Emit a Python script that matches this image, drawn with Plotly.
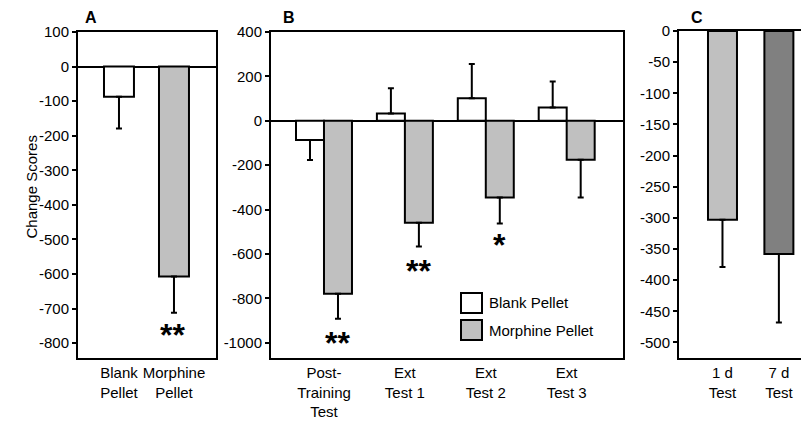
import plotly.graph_objects as go

# The page body adds an 8 px margin, so the figure is drawn 8 px in from the corner.
OX, OY = 8, 8
W, H = 809 - OX, 422 - OY

# ---------------- data ----------------
cats_a = ["Blank<br>Pellet", "Morphine<br>Pellet"]
vals_a = [-87, -607]
err_a = [92, 105]
ticks_a = [100, 0, -100, -200, -300, -400, -500, -600, -700, -800]

cats_b = ["Post-<br>Training<br>Test", "Ext<br>Test 1", "Ext<br>Test 2", "Ext<br>Test 3"]
blank_b = [-87, 33, 101, 60]
blank_err_b = [90, 114, 155, 117]
morph_b = [-779, -459, -346, -176]
morph_err_b = [113, 108, 117, 170]
ticks_b = [400, 200, 0, -200, -400, -600, -800, -1000]

cats_c = ["1 d<br>Test", "7 d<br>Test"]
vals_c = [-303, -358]
err_c = [76, 110]
ticks_c = [0, -50, -100, -150, -200, -250, -300, -350, -400, -450, -500]

series_names = ["Blank Pellet", "Morphine Pellet"]
stars_a = ["", "**"]
stars_a_y = [None, -763]
stars_b = ["**", "**", "*", ""]
stars_b_y = [-977, -654, -538, None]

# ---------------- style ----------------
WHITE = "#ffffff"
LIGHT = "#c0c0c0"
DARK = "#808080"
FONT = "Liberation Sans, Arial, sans-serif"


def px(x):
    return (x - OX) / W


def py(y):
    return 1 - (y - OY) / H


def errs(vals, e):
    return dict(type="data", symmetric=False,
                array=[b if v > 0 else 0 for v, b in zip(vals, e)],
                arrayminus=[b if v < 0 else 0 for v, b in zip(vals, e)],
                color="black", thickness=2, width=3)


def tlabels(vals):
    return [str(v) for v in vals]  # plain hyphen minus, as in the reference


fig = go.Figure()
line = dict(color="black", width=2)

# Panel A
fig.add_trace(go.Bar(x=cats_a, y=vals_a, marker=dict(color=[WHITE, LIGHT], line=line),
                     width=0.545, offset=-0.2725, error_y=errs(vals_a, err_a),
                     xaxis="x", yaxis="y", showlegend=False))
# Panel B
fig.add_trace(go.Bar(x=cats_b, y=blank_b, name=series_names[0],
                     marker=dict(color=WHITE, line=line),
                     width=0.346, offset=-0.346, error_y=errs(blank_b, blank_err_b),
                     xaxis="x2", yaxis="y2", showlegend=False))
fig.add_trace(go.Bar(x=cats_b, y=morph_b, name=series_names[1],
                     marker=dict(color=LIGHT, line=line),
                     width=0.346, offset=0.0, error_y=errs(morph_b, morph_err_b),
                     xaxis="x2", yaxis="y2", showlegend=False))
# Panel C
fig.add_trace(go.Bar(x=cats_c, y=vals_c, marker=dict(color=[LIGHT, DARK], line=line),
                     width=0.514, offset=-0.257, error_y=errs(vals_c, err_c),
                     xaxis="x3", yaxis="y3", showlegend=False))

tickfont = dict(family=FONT, size=15, color="black")
ybase = dict(showgrid=False, showline=True, linecolor="black", linewidth=2,
             ticks="outside", ticklen=4, tickwidth=1.5, tickcolor="black",
             tickfont=tickfont, zeroline=True, zerolinecolor="black", zerolinewidth=2,
             automargin=False)
xbase = dict(type="category", showgrid=False, showline=True, linecolor="black", linewidth=2,
             ticks="", tickfont=tickfont, zeroline=False, automargin=False)

ydom = [py(358), py(32)]
fig.update_layout(
    width=W, height=H, margin=dict(l=0, r=0, t=0, b=0, autoexpand=False),
    paper_bgcolor="white", plot_bgcolor="white", barmode="overlay",
    font=dict(family=FONT, size=15, color="black"),
    xaxis=dict(xbase, domain=[px(78), px(216)], range=[-0.745, 1.764], mirror=True, anchor="y"),
    yaxis=dict(ybase, domain=ydom, range=[-843, 100], tickvals=ticks_a, ticktext=tlabels(ticks_a),
               mirror=True, anchor="x"),
    xaxis2=dict(xbase, domain=[px(271), px(623)], range=[-0.655, 3.696], mirror=True, anchor="y2"),
    yaxis2=dict(ybase, domain=ydom, range=[-1069, 400], tickvals=ticks_b, ticktext=tlabels(ticks_b),
                mirror=True, anchor="x2"),
    xaxis3=dict(xbase, domain=[px(679), 1.0], range=[-0.771, 1.534], mirror=True, anchor="y3"),
    yaxis3=dict(ybase, domain=[py(358), py(31)], range=[-525, 0], tickvals=ticks_c,
                ticktext=tlabels(ticks_c), mirror=False, zeroline=False, anchor="x3"),
)

ann = []
starfont = dict(family=FONT, size=32, color="black")
# significance stars
for c, s, yv in zip(cats_a, stars_a, stars_a_y):
    if s:
        ann.append(dict(x=c, y=yv, xref="x", yref="y", text="<b>%s</b>" % s, showarrow=False,
                        xshift=-1, yshift=-5, font=starfont))
for i, (c, s, yv) in enumerate(zip(cats_b, stars_b, stars_b_y)):
    if s:
        ann.append(dict(x=i + 0.173, y=yv, xref="x2", yref="y2", text="<b>%s</b>" % s,
                        showarrow=False, yshift=-5, font=starfont))
# panel letters
for t, x in [("A", 83), ("B", 281), ("C", 689)]:
    ann.append(dict(x=px(x), y=py(18), xref="paper", yref="paper", text="<b>%s</b>" % t,
                    showarrow=False, xanchor="left", yanchor="middle",
                    font=dict(family=FONT, size=16, color="black")))
# y title
ann.append(dict(x=px(21), y=py(187), xref="paper", yref="paper", text="Change Scores",
                textangle=-90, showarrow=False, font=dict(family=FONT, size=15, color="black")))
# legend text
for name, yc in zip(series_names, [302, 330]):
    ann.append(dict(x=px(487), y=py(yc), xref="paper", yref="paper", text=name,
                    showarrow=False, xanchor="left", yanchor="middle",
                    font=dict(family=FONT, size=15, color="black")))
fig.update_layout(annotations=ann)

shapes = []
for col, (y0, y1) in zip([WHITE, LIGHT], [(293, 313), (320, 340)]):
    shapes.append(dict(type="rect", xref="paper", yref="paper", x0=px(461), x1=px(482),
                       y0=py(y1), y1=py(y0), fillcolor=col, line=dict(color="black", width=2)))
fig.update_layout(shapes=shapes)

fig.write_html("out.html")
